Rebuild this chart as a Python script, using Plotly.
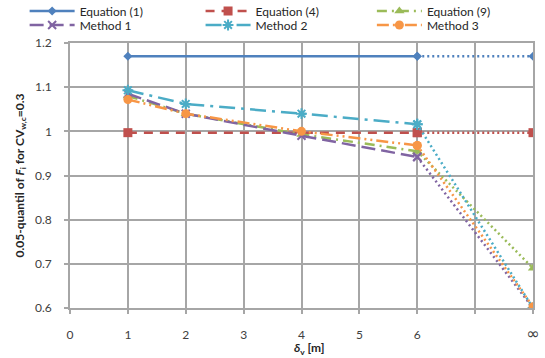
import plotly.graph_objects as go

# x positions: 1,2,4,6 and "infinity" plotted at 8
x_main = [1, 2, 4, 6]
x_inf = 8
tick_vals = [0, 1, 2, 3, 4, 5, 6, 7, 8]
tick_text = ["0", "1", "2", "3", "4", "5", "6", "",
             "<span style='font-family:DejaVu Sans;font-size:16px'>∞</span>"]

eq1_x = [1, 6]
eq1_y = [1.17, 1.17]
eq1_inf = 1.17

eq4_x = [1, 6]
eq4_y = [0.997, 0.997]
eq4_inf = 0.997

eq9_y = [1.08, 1.04, 0.993, 0.955]
eq9_inf = 0.69

m1_y = [1.085, 1.04, 0.99, 0.942]
m1_inf = 0.6

m2_y = [1.093, 1.062, 1.04, 1.016]
m2_inf = 0.6

m3_y = [1.072, 1.04, 1.0, 0.968]
m3_inf = 0.603

series = [
    ("Equation (1)", eq1_x, eq1_y, eq1_inf, "#4F81BD", "solid", "diamond", 7),
    ("Equation (4)", eq4_x, eq4_y, eq4_inf, "#C0504D", "9px,7px", "square", 9),
    ("Equation (9)", x_main, eq9_y, eq9_inf, "#9BBB59", "10px,5px,2px,5px", "triangle-up", 9),
    ("Method 1", x_main, m1_y, m1_inf, "#8064A2", "14px,6px", "x-thin", 8),
    ("Method 2", x_main, m2_y, m2_inf, "#4BACC6", "16px,6px,3px,6px", "asterisk", 9),
    ("Method 3", x_main, m3_y, m3_inf, "#F79646", "12px,4px,2px,4px,2px,4px", "circle", 9),
]

legend_names = ["legend", "legend2", "legend3", "legend4", "legend5", "legend6"]
# legend column / row positions (paper coords)
leg_x = [-0.098, 0.282, 0.652]
leg_y = [1.121, 1.068]

fig = go.Figure()
for i, (name, xs, ys, yinf, color, dash, sym, msize) in enumerate(series):
    lg = legend_names[i]
    line_marker = dict(symbol=sym, size=msize, color=color,
                       line=dict(color=color, width=2 if ("thin" in sym or sym == "asterisk") else 0))
    fig.add_trace(go.Scatter(
        x=xs, y=ys, name=name, mode="lines+markers", legend=lg,
        line=dict(color=color, width=2.5, dash=dash),
        marker=line_marker,
    ))
    fig.add_trace(go.Scatter(
        x=[xs[-1], x_inf], y=[ys[-1], yinf], mode="lines+markers", showlegend=False,
        legend=lg,
        line=dict(color=color, width=2.5, dash="2px,3px"),
        marker=line_marker,
    ))

grid = "#a6a6a6"
font_tick = dict(family="Lato", size=12, color="#404040")
leg_font = dict(family="Lato", size=12, color="#262626")

layout_legends = {}
for i, lg in enumerate(legend_names):
    layout_legends[lg] = dict(
        orientation="h", x=leg_x[i % 3], xanchor="left", y=leg_y[i // 3], yanchor="middle",
        font=leg_font, bgcolor="rgba(0,0,0,0)", itemwidth=45,
    )

fig.update_layout(
    width=545, height=358,
    margin=dict(l=70, r=12, t=43, b=50, autoexpand=False),
    paper_bgcolor="white", plot_bgcolor="white",
    font=dict(family="Lato", size=12, color="#262626"),
    xaxis=dict(range=[0, 8], tickvals=tick_vals, ticktext=tick_text, showgrid=True,
               gridcolor=grid, gridwidth=1.5, showline=True, linecolor=grid, linewidth=1.5,
               mirror=True, ticks="outside", ticklen=4, tickcolor=grid, tickwidth=1.5,
               tickfont=font_tick, ticklabelstandoff=11, zeroline=False),
    yaxis=dict(range=[0.6, 1.2], tickvals=[0.6, 0.7, 0.8, 0.9, 1.0, 1.1, 1.2],
               ticktext=["0.6", "0.7", "0.8", "0.9", "1", "1.1", "1.2"], showgrid=True,
               gridcolor=grid, gridwidth=1.5, showline=True, linecolor=grid, linewidth=1.5,
               mirror=True, ticks="outside", ticklen=4, tickcolor=grid, tickwidth=1.5,
               tickfont=font_tick, ticklabelstandoff=10, zeroline=False,
               title=dict(text="<b>0.05-quantil of <i>F</i><sub>i</sub> for CV<sub>w,c</sub>=0.3</b>",
                          standoff=8, font=dict(family="Lato", size=12, color="#262626"))),
    annotations=[dict(text="<b><i>δ</i><sub>v</sub> [m]</b>", xref="paper", yref="paper",
                      x=0.518, y=-0.153, xanchor="center", yanchor="middle", showarrow=False,
                      font=dict(family="Lato", size=12, color="#262626"))],
    **layout_legends,
)

fig.write_html("out.html", config={"displayModeBar": False},
               post_script="document.body.style.margin='0';document.body.style.overflow='hidden';")
